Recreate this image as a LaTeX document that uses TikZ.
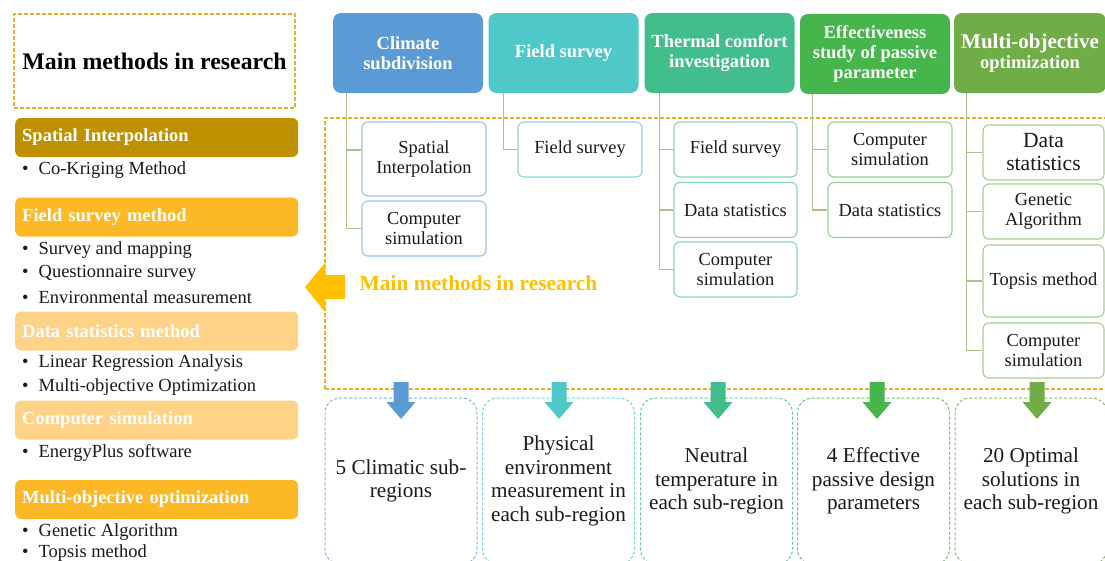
\documentclass[tikz,border=0pt]{standalone}
\usepackage{fontspec}
\setmainfont{Liberation Serif}
\usetikzlibrary{calc}
\definecolor{cblue}{HTML}{5B9BD5}
\definecolor{cteal}{HTML}{4FC8C9}
\definecolor{cgteal}{HTML}{42BD8C}
\definecolor{cgreen}{HTML}{45B54C}
\definecolor{colive}{HTML}{70AD47}
\definecolor{bblue}{HTML}{9DBFE4}
\definecolor{bteal}{HTML}{8AD8D8}
\definecolor{bgteal}{HTML}{88D4B6}
\definecolor{bgreen}{HTML}{8FD194}
\definecolor{bolive}{HTML}{A7CE8C}
\definecolor{treec}{HTML}{A9C28C}
\definecolor{myyellow}{HTML}{FFC000}
\definecolor{framey}{HTML}{E9B02E}
\definecolor{lgold}{HTML}{BF9000}
\definecolor{lorange}{HTML}{FDB825}
\definecolor{llight}{HTML}{FFD387}
\definecolor{txt}{HTML}{1A1A1A}
\tikzset{
  darr/.pic={\fill (-7.5,0) -- (7.5,0) -- (7.5,20) -- (14.5,20) -- (0,37) -- (-14.5,20) -- (-7.5,20) -- cycle;},
}
\begin{document}
\begin{tikzpicture}[x=1pt,y=-1pt,
  top/.style={rounded corners=8pt, text=white, font=\bfseries\fontsize{18.5}{20}\selectfont, align=center, minimum width=150pt, minimum height=80pt, inner sep=1pt},
  sub/.style={rounded corners=6pt, fill=white, draw, line width=1.1pt, font=\fontsize{18.4}{20}\selectfont, align=center, minimum width=124pt, minimum height=55pt, inner sep=1pt, text=txt},
  tree/.style={draw=treec, line width=1.2pt},
  res/.style={rounded corners=15pt, dash pattern=on 3pt off 2pt, line width=1pt, minimum width=152pt, minimum height=166pt, font=\fontsize{21.2}{23.5}\selectfont, align=center, text=txt, inner sep=1pt},
  lhead/.style={rounded corners=6pt, text=white, font=\bfseries\fontsize{18.5}{20}\selectfont, text width=269pt, inner xsep=7pt, minimum height=39pt, anchor=west, align=left},
  bul/.style={anchor=west, inner sep=0pt, font=\fontsize{18.5}{20}\selectfont, text=txt},
  ydash/.style={draw=framey, dash pattern=on 4pt off 2pt, line width=1.6pt},
]
\clip (0,0) rectangle (1105,560);
\fill[white] (0,0) rectangle (1105,560);

% ---------- left panel ----------
\node[ydash, minimum width=281pt, minimum height=94pt, font=\bfseries\fontsize{23.8}{26}\selectfont, text=black] (title) at (154.5,61) {Main methods in research};

\node[lhead, fill=lgold] (L1) at (15,137.5) {Spatial Interpolation};
\node[bul] (b11) at (22,170) {\textbullet\hspace{10pt}Co-Kriging Method};

\node[lhead, fill=lorange] (L2) at (15,217) {Field survey method};
\node[bul] (b21) at (22,250) {\textbullet\hspace{10pt}Survey and mapping};
\node[bul] (b22) at (22,273) {\textbullet\hspace{10pt}Questionnaire survey};
\node[bul] (b23) at (22,297) {\textbullet\hspace{10pt}Environmental measurement};

\node[lhead, fill=llight] (L3) at (15,331) {Data statistics method};
\node[bul] (b31) at (22,363) {\textbullet\hspace{10pt}Linear Regression Analysis};
\node[bul] (b32) at (22,387) {\textbullet\hspace{10pt}Multi-objective Optimization};

\node[lhead, fill=llight] (L4) at (15,420) {Computer simulation};
\node[bul] (b41) at (22,453) {\textbullet\hspace{10pt}EnergyPlus software};

\node[lhead, fill=lorange] (L5) at (15,499.5) {Multi-objective optimization};
\node[bul] (b51) at (22,532) {\textbullet\hspace{10pt}Genetic Algorithm};
\node[bul] (b52) at (22,553) {\textbullet\hspace{10pt}Topsis method};

% ---------- frame and big arrow ----------
\node[ydash, minimum width=790pt, minimum height=271pt, anchor=north west, inner sep=0pt] (frame) at (324,117) {};
\fill[myyellow] (305,287) -- (325,263) -- (325,275) -- (345,275) -- (345,299) -- (325,299) -- (325,312) -- cycle;
\node[text=myyellow, font=\bfseries\fontsize{21.4}{24}\selectfont] (mmr) at (478.5,283) {Main methods in research};

% ---------- top headers ----------
\node[top, fill=cblue] (h1) at (408,53) {Climate\\subdivision};
\node[top, fill=cteal] (h2) at (563.5,53) {Field survey};
\node[top, fill=cgteal] (h3) at (719.5,53) {Thermal comfort\\investigation};
\node[top, fill=cgreen, font=\bfseries\fontsize{18.5}{20}\selectfont] (h4) at (875,54) {Effectiveness\\study of passive\\parameter};
\node[top, fill=colive, minimum width=152pt] (h5) at (1030,53) {{\fontsize{21}{21}\selectfont Multi-objective}\\optimization};

% ---------- sub boxes ----------
\node[sub, draw=bblue, minimum height=74pt] (s11) at (424,159) {Spatial\\Interpolation};
\node[sub, draw=bblue] (s12) at (424,228.5) {Computer\\simulation};

\node[sub, draw=bteal] (s21) at (580,149.5) {Field survey};

\node[sub, draw=bgteal, minimum width=123pt] (s31) at (735.5,149.5) {Field survey};
\node[sub, draw=bgteal, minimum width=123pt] (s32) at (735.5,210) {Data statistics};
\node[sub, draw=bgteal, minimum width=123pt] (s33) at (735.5,269.5) {Computer\\simulation};

\node[sub, draw=bgreen] (s41) at (890,149.5) {Computer\\simulation};
\node[sub, draw=bgreen] (s42) at (890,210) {Data statistics};

\node[sub, draw=bolive, minimum width=121pt, font=\fontsize{21.6}{23}\selectfont] (s51) at (1043.5,152.5) {Data\\statistics};
\node[sub, draw=bolive, minimum width=121pt] (s52) at (1043.5,211.5) {Genetic\\Algorithm};
\node[sub, draw=bolive, minimum width=121pt, minimum height=72pt] (s53) at (1043.5,281) {Topsis method};
\node[sub, draw=bolive, minimum width=121pt] (s54) at (1043.5,350.5) {Computer\\simulation};

% ---------- tree connectors ----------
\draw[tree] (h1.south west) ++(14pt,0) |- ($(s11.west)+(0,-9)$);
\draw[tree] (h1.south west) ++(14pt,0) |- (s12.west);
\draw[tree] (h2.south west) ++(15pt,0) |- (s21.west);
\draw[tree] (h3.south west) ++(15pt,0) |- (s31.west);
\draw[tree] (h3.south west) ++(15pt,0) |- (s32.west);
\draw[tree] (h3.south west) ++(15pt,0) |- (s33.west);
\draw[tree] (h4.south west) ++(13pt,0) |- (s41.west);
\draw[tree] (h4.south west) ++(13pt,0) |- (s42.west);
\draw[tree] (h5.south west) ++(13pt,0) |- (s51.west);
\draw[tree] (h5.south west) ++(13pt,0) |- (s52.west);
\draw[tree] (h5.south west) ++(13pt,0) |- (s53.west);
\draw[tree] (h5.south west) ++(13pt,0) |- (s54.west);

% ---------- result boxes ----------
\node[res, draw=cblue!75] (r1) at (401,481) {5 Climatic sub-\\regions};
\node[res, draw=cteal!80] (r2) at (558.5,481) {Physical\\environment\\measurement in\\each sub-region};
\node[res, draw=cgteal!80] (r3) at (716.5,481) {Neutral\\temperature in\\each sub-region};
\node[res, draw=cgreen!80] (r4) at (873.5,481) {4 Effective\\passive design\\parameters};
\node[res, draw=colive!80] (r5) at (1031,481) {20 Optimal\\solutions in\\each sub-region};

% ---------- down arrows ----------
\pic[color=cblue] at (401,382) {darr};
\pic[color=cteal] at (559,382) {darr};
\pic[color=cgteal] at (718,382) {darr};
\pic[color=cgreen] at (877,382) {darr};
\pic[color=colive] at (1037,382) {darr};
\end{tikzpicture}
\end{document}
